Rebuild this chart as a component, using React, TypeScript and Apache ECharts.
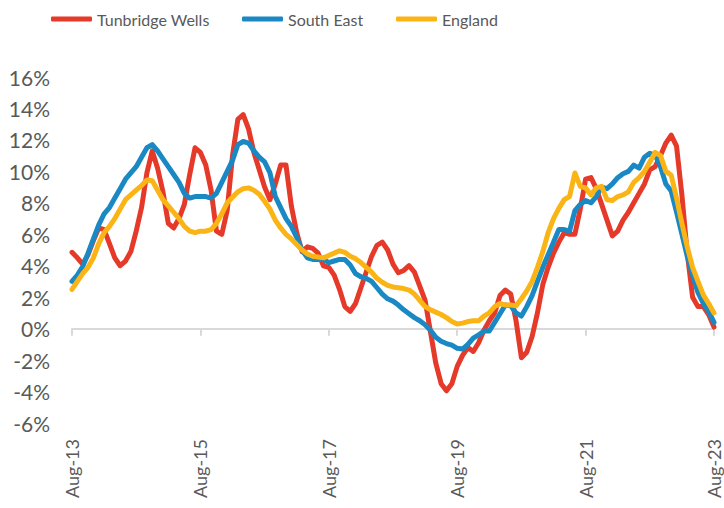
import React, { useEffect, useRef } from "react";
import * as echarts from "echarts";

const monthNames = ["Jan","Feb","Mar","Apr","May","Jun","Jul","Aug","Sep","Oct","Nov","Dec"];
const categories: string[] = [];
for (let k = 0; k <= 120; k++) {
  const m = (7 + k) % 12;
  const y = 13 + Math.floor((7 + k) / 12);
  categories.push(`${monthNames[m]}-${y}`);
}

const tunbridgeWells = [
  4.85, 4.5, 4.1, 4.7, 5.6, 6.4, 6.3, 5.4, 4.5, 4.0,
  4.3, 4.9, 6.2, 7.7, 9.9, 11.3, 10.2, 8.7, 6.7, 6.4,
  7.0, 7.9, 9.8, 11.5, 11.2, 10.4, 8.8, 6.2, 6.0, 7.5,
  11.0, 13.3, 13.6, 12.7, 11.2, 10.1, 9.0, 8.2, 9.2, 10.4,
  10.4, 7.8, 6.1, 4.9, 5.2, 5.1, 4.8, 4.0, 3.9, 3.4,
  2.5, 1.4, 1.1, 1.6, 2.6, 3.6, 4.6, 5.3, 5.5, 5.0,
  4.1, 3.55, 3.7, 4.0, 3.6, 2.7, 1.8, -0.2, -2.2, -3.5,
  -3.95, -3.5, -2.4, -1.7, -1.2, -1.45, -0.9, -0.1, 0.5, 1.0,
  2.1, 2.45, 2.2, 0.5, -1.85, -1.5, -0.5, 1.0, 2.8, 3.9,
  4.8, 5.5, 6.1, 6.0, 6.0, 7.6, 9.5, 9.6, 8.9, 7.9,
  6.9, 5.9, 6.2, 6.9, 7.4, 8.0, 8.6, 9.2, 10.1, 10.3,
  11.0, 11.8, 12.3, 11.6, 8.5, 4.8, 2.0, 1.4, 1.4, 0.9,
  0.1,
];

const southEast = [
  3.0, 3.4, 3.95, 4.8, 5.7, 6.6, 7.3, 7.7, 8.3, 8.9,
  9.5, 9.9, 10.3, 10.9, 11.5, 11.7, 11.3, 10.8, 10.3, 9.8,
  9.3, 8.6, 8.3, 8.4, 8.4, 8.4, 8.3, 8.6, 9.3, 10.0,
  10.7, 11.7, 11.9, 11.8, 11.3, 10.9, 10.6, 9.9, 8.4, 7.7,
  7.0, 6.5, 5.8, 5.0, 4.5, 4.4, 4.4, 4.4, 4.2, 4.3,
  4.4, 4.4, 4.05, 3.5, 3.3, 3.2, 3.0, 2.6, 2.2, 1.9,
  1.75, 1.5, 1.2, 0.95, 0.7, 0.5, 0.25, -0.1, -0.55, -0.8,
  -0.95, -1.05, -1.25, -1.3, -1.0, -0.6, -0.4, -0.15, -0.15, 0.4,
  0.95, 1.5, 1.45, 1.0, 0.8, 1.4, 2.1, 3.0, 3.9, 4.7,
  5.5, 6.3, 6.3, 6.2, 7.5, 7.9, 8.15, 8.0, 8.4, 9.0,
  8.9, 9.2, 9.6, 9.85, 10.0, 10.4, 10.2, 10.9, 11.15, 11.05,
  10.3, 9.2, 8.75, 7.4, 6.0, 4.6, 3.4, 2.3, 1.6, 1.1,
  0.4,
];

const england = [
  2.5, 3.0, 3.5, 3.9, 4.5, 5.4, 6.1, 6.5, 7.0, 7.6,
  8.2, 8.5, 8.8, 9.1, 9.45, 9.4, 8.8, 8.2, 7.8, 7.4,
  7.0, 6.5, 6.2, 6.1, 6.2, 6.2, 6.3, 6.7, 7.3, 8.0,
  8.35, 8.7, 8.9, 8.95, 8.8, 8.55, 8.1, 7.6, 6.9, 6.4,
  6.0, 5.7, 5.35, 5.0, 4.75, 4.6, 4.55, 4.5, 4.65, 4.8,
  4.95, 4.85, 4.6, 4.45, 4.2, 3.9, 3.6, 3.2, 2.95, 2.75,
  2.65, 2.6, 2.55, 2.45, 2.2, 1.8, 1.4, 1.2, 1.05, 0.9,
  0.7, 0.45, 0.3, 0.35, 0.45, 0.5, 0.5, 0.8, 1.0, 1.4,
  1.6, 1.5, 1.5, 1.45, 1.9, 2.4, 3.0, 3.9, 4.9, 6.1,
  7.0, 7.65, 8.2, 8.4, 9.9, 9.05, 8.95, 8.5, 8.95, 9.05,
  8.2, 8.15, 8.4, 8.5, 8.7, 9.3, 9.6, 10.0, 10.6, 11.2,
  11.0, 10.0, 9.75, 8.3, 6.7, 5.2, 3.9, 3.0, 2.15, 1.6,
  1.0,
];

const seriesNames = ["Tunbridge Wells", "South East", "England"];
const seriesColors = ["#e5392a", "#1a88c2", "#fbb415"];
const legendLefts = [46, 237, 391];

export default function App() {
  const ref = useRef<HTMLDivElement>(null);
  useEffect(() => {
    if (!ref.current) return;
    const chart = echarts.init(ref.current, undefined, { renderer: "svg" });
    const textColor = "#595959";
    const font = "Lato, sans-serif";
    const dataSets = [tunbridgeWells, southEast, england];
    chart.setOption({
      animation: false,
      legend: seriesNames.map((n, i) => ({
        left: legendLefts[i],
        top: 6,
        itemWidth: 41,
        itemHeight: 5,
        icon: "roundRect",
        textStyle: { color: textColor, fontSize: 16, fontFamily: font },
        data: [n],
      })),
      grid: { left: 72, right: 10, top: 77, bottom: 85, containLabel: false },
      xAxis: [
        {
          type: "category",
          data: categories,
          boundaryGap: false,
          position: "bottom",
          axisLine: { show: false, onZero: false },
          axisTick: { show: false },
          axisLabel: {
            interval: 23,
            rotate: 90,
            margin: 16,
            color: textColor,
            fontSize: 18,
            fontFamily: font,
          },
          splitLine: { show: false },
        },
        {
          type: "category",
          data: categories,
          boundaryGap: false,
          position: "bottom",
          axisLine: { show: true, onZero: true, lineStyle: { color: "#d9d9d9", width: 2 } },
          axisTick: { show: true, interval: 23, length: 7, lineStyle: { color: "#d9d9d9", width: 2 } },
          axisLabel: { show: false },
          splitLine: { show: false },
        },
      ],
      yAxis: {
        type: "value",
        min: -6,
        max: 16,
        interval: 2,
        axisLine: { show: false },
        axisTick: { show: false },
        splitLine: { show: false },
        axisLabel: {
          formatter: (v: number) => `${v}%`,
          color: textColor,
          fontSize: 21,
          fontFamily: font,
          margin: 22,
        },
      },
      series: dataSets.map((d, i) => ({
        name: seriesNames[i],
        type: "line",
        xAxisIndex: 0,
        data: d,
        showSymbol: false,
        symbol: "none",
        color: seriesColors[i],
        lineStyle: { width: 5, color: seriesColors[i], cap: "round", join: "round" },
      })),
    });
    return () => chart.dispose();
  }, []);
  return <div ref={ref} style={{ width: 724, height: 508, position: "absolute", left: 0, top: 0 }} />;
}
